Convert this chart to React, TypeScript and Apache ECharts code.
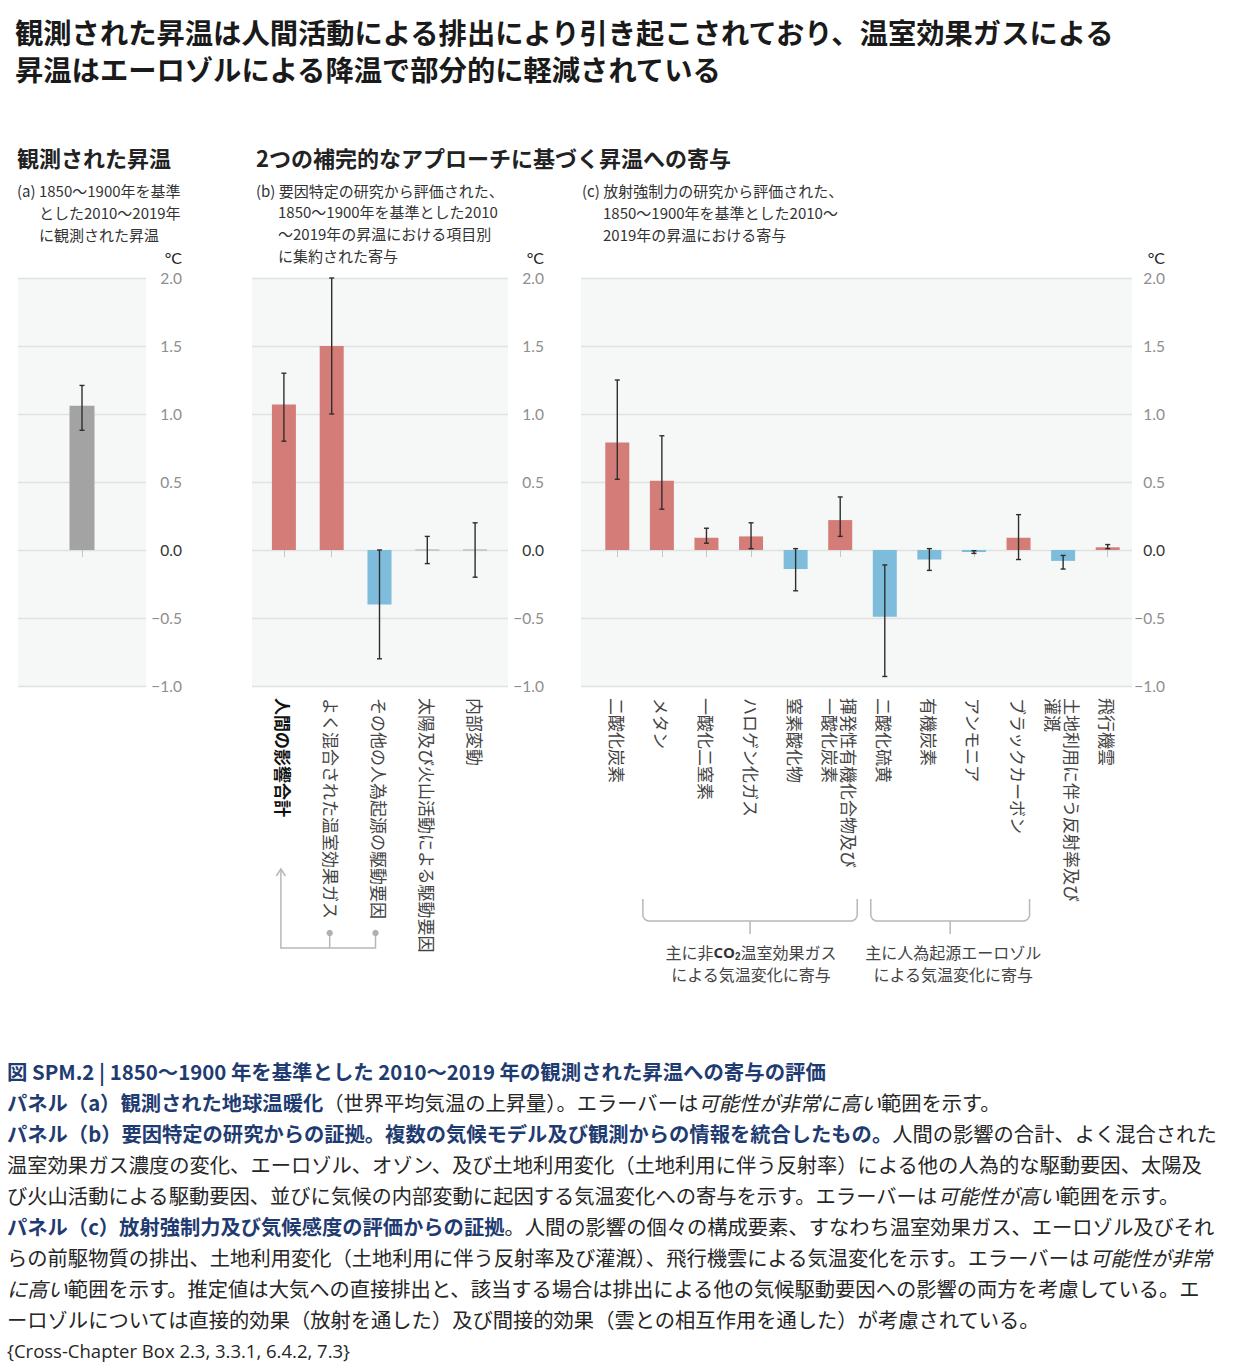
import React, { useEffect, useRef } from 'react';
import * as echarts from 'echarts';

// ---------- data ----------
const obsCategories = [''];
const obsValues = [1.06];
const obsLow = [0.88];
const obsHigh = [1.21];

const attrCategories = [
  '人間の影響合計',
  'よく混合された温室効果ガス',
  'その他の人為起源の駆動要因',
  '太陽及び火山活動による駆動要因',
  '内部変動',
];
const attrValues = [1.07, 1.5, -0.4, 0, 0];
const attrLow = [0.8, 1.0, -0.8, -0.1, -0.2];
const attrHigh = [1.3, 2.0, 0.0, 0.1, 0.2];

const rfCategories = [
  '二酸化炭素',
  'メタン',
  '一酸化二窒素',
  'ハロゲン化ガス',
  '窒素酸化物',
  '揮発性有機化合物及び\n一酸化炭素',
  '二酸化硫黄',
  '有機炭素',
  'アンモニア',
  'ブラックカーボン',
  '土地利用に伴う反射率及び\n灌漑',
  '飛行機雲',
];
const rfValues = [0.79, 0.51, 0.09, 0.1, -0.14, 0.22, -0.49, -0.07, -0.015, 0.09, -0.08, 0.02];
const rfLow = [0.52, 0.3, 0.05, 0.01, -0.3, 0.1, -0.93, -0.15, -0.025, -0.07, -0.14, 0.01];
const rfHigh = [1.25, 0.84, 0.16, 0.2, 0.01, 0.39, -0.11, 0.01, -0.005, 0.26, -0.04, 0.04];

const yMin = -1;
const yMax = 2;
const yInterval = 0.5;

const titleLines = [
  '観測された昇温は人間活動による排出により引き起こされており、温室効果ガスによる',
  '昇温はエーロゾルによる降温で部分的に軽減されている',
];
const headerA = '観測された昇温';
const headerBC = '2つの補完的なアプローチに基づく昇温への寄与';
const subA = ['(a) 1850～1900年を基準', 'とした2010～2019年', 'に観測された昇温'];
const subB = ['(b) 要因特定の研究から評価された、', '1850～1900年を基準とした2010', '～2019年の昇温における項目別', 'に集約された寄与'];
const subC = ['(c) 放射強制力の研究から評価された、', '1850～1900年を基準とした2010～', '2019年の昇温における寄与'];
const braceTexts1 = ['主に非{c|CO}{s|2}温室効果ガス', 'による気温変化に寄与'];
const braceTexts2 = ['主に人為起源エーロゾル', 'による気温変化に寄与'];

const captionLines = [
  '{h|図 SPM.2 | 1850～1900 年を基準とした 2010～2019 年の観測された昇温への寄与の評価}',
  '{b|パネル（a）観測された地球温暖化}{n|（世界平均気温の上昇量）。エラーバーは}{i|可能性が非常に高い}{n|範囲を示す。}',
  '{b|パネル（b）要因特定の研究からの証拠。複数の気候モデル及び観測からの情報を統合したもの。}{n|人間の影響の合計、よく混合された}',
  '{n|温室効果ガス濃度の変化、エーロゾル、オゾン、及び土地利用変化（土地利用に伴う反射率）による他の人為的な駆動要因、太陽及}',
  '{n|び火山活動による駆動要因、並びに気候の内部変動に起因する気温変化への寄与を示す。エラーバーは}{i|可能性が高い}{n|範囲を示す。}',
  '{b|パネル（c）放射強制力及び気候感度の評価からの証拠}{n|。人間の影響の個々の構成要素、すなわち温室効果ガス、エーロゾル及びそれ}',
  '{n|らの前駆物質の排出、土地利用変化（土地利用に伴う反射率及び灌漑）、飛行機雲による気温変化を示す。エラーバーは}{i|可能性が非常}',
  '{i|に高い}{n|範囲を示す。推定値は大気への直接排出と、該当する場合は排出による他の気候駆動要因への影響の両方を考慮している。エ}',
  '{n|ーロゾルについては直接的効果（放射を通した）及び間接的効果（雲との相互作用を通した）が考慮されている。}',
];
const captionRef = '{Cross-Chapter Box 2.3, 3.3.1, 6.4.2, 7.3}';

// ---------- style / layout ----------
const FONT = "'Noto Sans CJK JP', 'Noto Sans', sans-serif";
const NUMFONT = "Lato, 'Noto Sans', sans-serif";
const RED = '#d47c77';
const BLUE = '#7dbcdb';
const GRAY = '#a3a3a3';
const BG = '#f6f7f7';
const GRIDLINE = '#e0e2e2';
const TOP = 278;
const H = 408;

const panels = {
  a: { bgLeft: 18, bgWidth: 128, dLeft: 18, dWidth: 128, barW: 25, margin: 36 },
  b: { bgLeft: 252, bgWidth: 256, dLeft: 260, dWidth: 239, barW: 24, margin: 36 },
  c: { bgLeft: 581, bgWidth: 551, dLeft: 595, dWidth: 535, barW: 24, margin: 33 },
};

const yLabelFormatter = (v: number) => {
  if (Math.abs(v) < 1e-9) return '{z|0.0}';
  return (v < 0 ? '−' : '') + Math.abs(v).toFixed(1);
};

function bgY(): any {
  return {
    type: 'value',
    position: 'right',
    min: yMin,
    max: yMax,
    interval: yInterval,
    axisLine: { show: false },
    axisTick: { show: false },
    splitLine: { show: true, lineStyle: { color: GRIDLINE, width: 1.3 } },
    axisLabel: {
      align: 'right',
      color: '#8e8e8e',
      fontSize: 15.5,
      fontFamily: NUMFONT,
      formatter: yLabelFormatter,
      rich: { z: { color: '#333', fontSize: 15.5, fontFamily: NUMFONT } },
    },
  };
}
function dataY(): any {
  return { type: 'value', show: false, min: yMin, max: yMax, interval: yInterval, splitLine: { show: false } };
}
function dataX(cats: string[], showLabels: boolean): any {
  return {
    type: 'category',
    data: cats,
    axisLine: { show: false },
    axisTick: { show: true, alignWithLabel: true, length: 7, lineStyle: { color: '#c6c6c6', width: 1 } },
    axisLabel: {
      show: showLabels,
      interval: 0,
      rotate: -90,
      margin: 12,
      fontSize: 17,
      lineHeight: 19,
      color: '#444',
      fontFamily: FONT,
      formatter: (val: string, idx: number) => (cats === attrCategories && idx === 0 ? '{b|' + val + '}' : val),
      rich: { b: { fontWeight: 'bold', color: '#111', fontSize: 17, fontFamily: FONT } },
    },
  };
}

function errRenderer(barW: number) {
  return (params: any, api: any) => {
    const i = api.value(0);
    const lo = api.coord([i, api.value(1)]);
    const hi = api.coord([i, api.value(2)]);
    const v = api.value(3);
    const x = lo[0];
    const children: any[] = [];
    if (v === 0) {
      const z = api.coord([i, 0]);
      children.push({
        type: 'line',
        shape: { x1: x - barW / 2, y1: z[1], x2: x + barW / 2, y2: z[1] },
        style: { stroke: '#c2c4c4', lineWidth: 1.6 },
      });
    }
    const st = { stroke: '#2e2e2e', lineWidth: 1.4 };
    children.push({ type: 'line', shape: { x1: x, y1: lo[1], x2: x, y2: hi[1] }, style: st });
    children.push({ type: 'line', shape: { x1: x - 2.5, y1: lo[1], x2: x + 2.5, y2: lo[1] }, style: st });
    children.push({ type: 'line', shape: { x1: x - 2.5, y1: hi[1], x2: x + 2.5, y2: hi[1] }, style: st });
    return { type: 'group', children };
  };
}

function errSeries(idx: number, vals: number[], lo: number[], hi: number[], barW: number): any {
  return {
    type: 'custom',
    xAxisIndex: idx,
    yAxisIndex: idx,
    z: 5,
    renderItem: errRenderer(barW),
    encode: { x: 0, y: [1, 2] },
    data: vals.map((v, i) => [i, lo[i], hi[i], v]),
  };
}

const signColor = (p: any) => (p.value >= 0 ? RED : BLUE);

function text(x: number, y: number, t: string, style: any): any {
  return {
    type: 'text',
    x,
    y,
    silent: true,
    style: { text: t, fontFamily: FONT, textVerticalAlign: 'middle', ...style },
  };
}

function catCenter(p: { dLeft: number; dWidth: number }, n: number, i: number) {
  return p.dLeft + ((i + 0.5) * p.dWidth) / n;
}

export default function App() {
  const ref = useRef<HTMLDivElement>(null);
  useEffect(() => {
    if (!ref.current) return;
    const chart = echarts.init(ref.current, undefined, { renderer: 'svg' });

    const pa = panels.a, pb = panels.b, pc = panels.c;
    const grids = [
      { left: pa.bgLeft, width: pa.bgWidth, top: TOP, height: H, show: true, backgroundColor: BG, borderWidth: 0 },
      { left: pa.dLeft, width: pa.dWidth, top: TOP, height: H },
      { left: pb.bgLeft, width: pb.bgWidth, top: TOP, height: H, show: true, backgroundColor: BG, borderWidth: 0 },
      { left: pb.dLeft, width: pb.dWidth, top: TOP, height: H },
      { left: pc.bgLeft, width: pc.bgWidth, top: TOP, height: H, show: true, backgroundColor: BG, borderWidth: 0 },
      { left: pc.dLeft, width: pc.dWidth, top: TOP, height: H },
    ];
    const bgX = (i: number) => ({ type: 'category', gridIndex: i, data: [''], show: false });
    const xAxes = [
      bgX(0),
      { ...dataX(obsCategories, false), gridIndex: 1 },
      bgX(2),
      { ...dataX(attrCategories, true), gridIndex: 3 },
      bgX(4),
      { ...dataX(rfCategories, true), gridIndex: 5 },
    ];
    const yAxes = [
      { ...bgY(), gridIndex: 0, axisLabel: { ...bgY().axisLabel, margin: pa.margin } },
      { ...dataY(), gridIndex: 1 },
      { ...bgY(), gridIndex: 2, axisLabel: { ...bgY().axisLabel, margin: pb.margin } },
      { ...dataY(), gridIndex: 3 },
      { ...bgY(), gridIndex: 4, axisLabel: { ...bgY().axisLabel, margin: pc.margin } },
      { ...dataY(), gridIndex: 5 },
    ];

    const series: any[] = [
      { type: 'bar', xAxisIndex: 1, yAxisIndex: 1, data: obsValues, barWidth: pa.barW, itemStyle: { color: GRAY } },
      errSeries(1, obsValues, obsLow, obsHigh, pa.barW),
      { type: 'bar', xAxisIndex: 3, yAxisIndex: 3, data: attrValues, barWidth: pb.barW, itemStyle: { color: signColor } },
      errSeries(3, attrValues, attrLow, attrHigh, pb.barW),
      { type: 'bar', xAxisIndex: 5, yAxisIndex: 5, data: rfValues, barWidth: pc.barW, itemStyle: { color: signColor } },
      errSeries(5, rfValues, rfLow, rfHigh, pc.barW),
    ];

    const g: any[] = [];
    // main title
    titleLines.forEach((t, i) =>
      g.push(text(15, 31 + i * 37, t, { fontSize: 28.3, fontWeight: 'bold', fill: '#1a1a1a' }))
    );
    // headers
    g.push(text(17, 157, headerA, { fontSize: 22, fontWeight: 'bold', fill: '#222' }));
    g.push(text(256, 157, headerBC, { fontSize: 22, fontWeight: 'bold', fill: '#222' }));
    // sub texts
    const subStyle = { fontSize: 15, fill: '#333' };
    subA.forEach((t, i) => g.push(text(i === 0 ? 17 : 39, 190 + i * 22, t, subStyle)));
    subB.forEach((t, i) => g.push(text(i === 0 ? 256 : 278, 190 + i * 21.7, t, subStyle)));
    subC.forEach((t, i) => g.push(text(i === 0 ? 582 : 603, 190 + i * 22, t, subStyle)));
    // °C units
    const unitStyle = { fontSize: 16, fill: '#222', textAlign: 'right', fontFamily: NUMFONT };
    g.push(text(pa.bgLeft + pa.bgWidth + pa.margin, 257, '°C', unitStyle));
    g.push(text(pb.bgLeft + pb.bgWidth + pb.margin, 257, '°C', unitStyle));
    g.push(text(pc.bgLeft + pc.bgWidth + pc.margin, 257, '°C', unitStyle));

    // connector in panel b
    const cs = { stroke: '#b8b8b8', lineWidth: 1.5, fill: 'none' };
    const nB = attrCategories.length;
    const x0 = catCenter(pb, nB, 0) - 3;
    const x1 = catCenter(pb, nB, 1) - 2;
    const x2 = catCenter(pb, nB, 2) - 4;
    g.push({ type: 'polyline', silent: true, shape: { points: [[x0, 870], [x0, 948], [x2, 948], [x2, 933]] }, style: cs });
    g.push({ type: 'line', silent: true, shape: { x1: x1, y1: 948, x2: x1, y2: 933 }, style: cs });
    g.push({ type: 'polyline', silent: true, shape: { points: [[x0 - 4.5, 876], [x0, 869], [x0 + 4.5, 876]] }, style: cs });
    g.push({ type: 'circle', silent: true, shape: { cx: x1, cy: 933, r: 3.2 }, style: { fill: '#b0b0b0' } });
    g.push({ type: 'circle', silent: true, shape: { cx: x2, cy: 933, r: 3.2 }, style: { fill: '#b0b0b0' } });

    // braces in panel c
    const nC = rfCategories.length;
    const brace = (L: number, R: number) => {
      const C = (L + R) / 2;
      const yT = 899, yB = 921;
      g.push({
        type: 'polyline',
        silent: true,
        shape: { points: [[L, yT], [L, yB - 5], [L + 2, yB - 1.5], [L + 5, yB], [R - 5, yB], [R - 2, yB - 1.5], [R, yB - 5], [R, yT]] },
        style: cs,
      });
      g.push({ type: 'line', silent: true, shape: { x1: C, y1: yB, x2: C, y2: 934 }, style: cs });
      return C;
    };
    const c1 = brace(catCenter(pc, nC, 1) - 19, catCenter(pc, nC, 5) + 17);
    const c2 = brace(catCenter(pc, nC, 6) - 14, catCenter(pc, nC, 9) + 11);
    const bStyle = {
      fontSize: 16,
      fill: '#444',
      textAlign: 'center',
      rich: {
        c: { fontSize: 15, fontWeight: 'bold', fill: '#333', fontFamily: "'Open Sans', sans-serif" },
        s: { fontSize: 10, fontWeight: 'bold', fill: '#333', verticalAlign: 'bottom', padding: [8, 0, 0, 0] },
      },
    };
    braceTexts1.forEach((t, i) => g.push(text(c1 + 1, 952 + i * 22, t, bStyle)));
    braceTexts2.forEach((t, i) => g.push(text(c2 + 3, 952 + i * 22, t, bStyle)));

    // caption
    const capFont = 20.3;
    const capRich = {
      h: { fontSize: 20.4, fontWeight: 'bold', fill: '#1f3c72', fontFamily: FONT },
      b: { fontSize: capFont, fontWeight: 'bold', fill: '#1f3c72', fontFamily: FONT },
      n: { fontSize: capFont, fill: '#262626', fontFamily: FONT },
      i: { fontSize: capFont, fill: '#262626', fontStyle: 'italic', fontFamily: FONT },
    };
    captionLines.forEach((t, i) => g.push(text(7, 1071 + i * 31, t, { fontSize: capFont, rich: capRich })));
    g.push(
      text(7, 1071 + captionLines.length * 31, captionRef, {
        fontSize: 18.5,
        fill: '#262626',
        fontFamily: "'Open Sans', 'Noto Sans', sans-serif",
      })
    );

    chart.setOption({
      animation: false,
      grid: grids,
      xAxis: xAxes,
      yAxis: yAxes,
      series,
      graphic: { elements: g },
    });
    return () => chart.dispose();
  }, []);
  return <div ref={ref} style={{ position: 'absolute', left: 0, top: 0, width: 1240, height: 1363, background: '#fff' }} />;
}
